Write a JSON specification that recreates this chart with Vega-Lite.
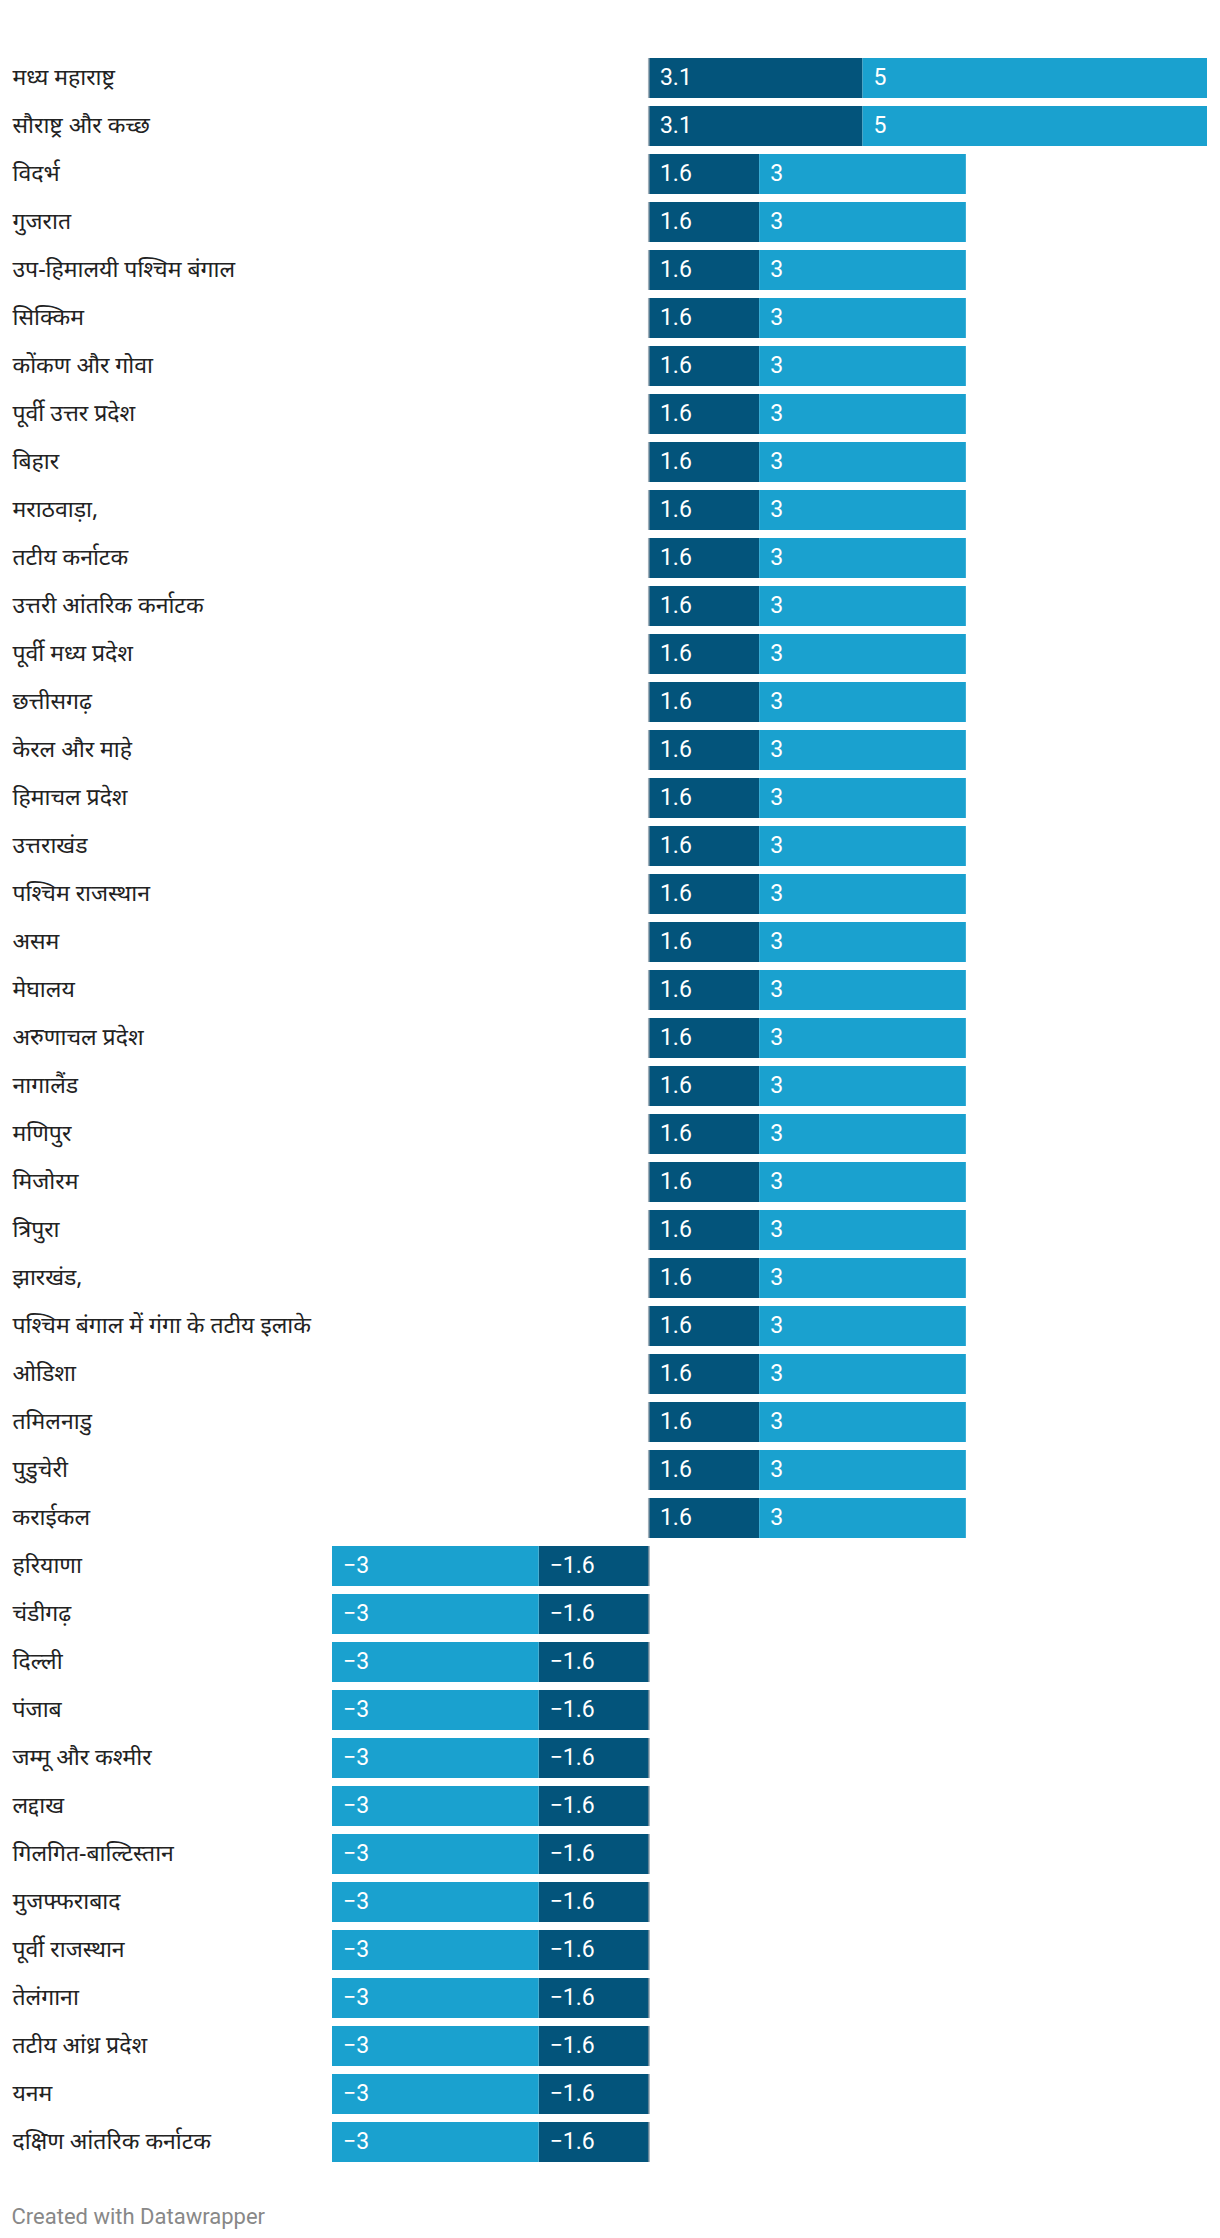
{
  "$schema": "https://vega.github.io/schema/vega-lite/v6.json",
  "autosize": {"type": "none"},
  "width": 875,
  "height": 2112,
  "padding": {"left": 332, "top": 54, "right": 13, "bottom": 72},
  "background": "white",
  "config": {"view": {"stroke": null}, "font": "Roboto"},
  "data": {"values": [
    {"r": "मध्य महाराष्ट्र", "a": 3.1, "b": 5},
    {"r": "सौराष्ट्र और कच्छ", "a": 3.1, "b": 5},
    {"r": "विदर्भ", "a": 1.6, "b": 3},
    {"r": "गुजरात", "a": 1.6, "b": 3},
    {"r": "उप-हिमालयी पश्चिम बंगाल", "a": 1.6, "b": 3},
    {"r": "सिक्किम", "a": 1.6, "b": 3},
    {"r": "कोंकण और गोवा", "a": 1.6, "b": 3},
    {"r": "पूर्वी उत्तर प्रदेश", "a": 1.6, "b": 3},
    {"r": "बिहार", "a": 1.6, "b": 3},
    {"r": "मराठवाड़ा,", "a": 1.6, "b": 3},
    {"r": "तटीय कर्नाटक", "a": 1.6, "b": 3},
    {"r": "उत्तरी आंतरिक कर्नाटक", "a": 1.6, "b": 3},
    {"r": "पूर्वी मध्य प्रदेश", "a": 1.6, "b": 3},
    {"r": "छत्तीसगढ़", "a": 1.6, "b": 3},
    {"r": "केरल और माहे", "a": 1.6, "b": 3},
    {"r": "हिमाचल प्रदेश", "a": 1.6, "b": 3},
    {"r": "उत्तराखंड", "a": 1.6, "b": 3},
    {"r": "पश्चिम राजस्थान", "a": 1.6, "b": 3},
    {"r": "असम", "a": 1.6, "b": 3},
    {"r": "मेघालय", "a": 1.6, "b": 3},
    {"r": "अरुणाचल प्रदेश", "a": 1.6, "b": 3},
    {"r": "नागालैंड", "a": 1.6, "b": 3},
    {"r": "मणिपुर", "a": 1.6, "b": 3},
    {"r": "मिजोरम", "a": 1.6, "b": 3},
    {"r": "त्रिपुरा", "a": 1.6, "b": 3},
    {"r": "झारखंड,", "a": 1.6, "b": 3},
    {"r": "पश्चिम बंगाल में गंगा के तटीय इलाके", "a": 1.6, "b": 3},
    {"r": "ओडिशा", "a": 1.6, "b": 3},
    {"r": "तमिलनाडु", "a": 1.6, "b": 3},
    {"r": "पुडुचेरी", "a": 1.6, "b": 3},
    {"r": "कराईकल", "a": 1.6, "b": 3},
    {"r": "हरियाणा", "a": -1.6, "b": -3},
    {"r": "चंडीगढ़", "a": -1.6, "b": -3},
    {"r": "दिल्ली", "a": -1.6, "b": -3},
    {"r": "पंजाब", "a": -1.6, "b": -3},
    {"r": "जम्मू और कश्मीर", "a": -1.6, "b": -3},
    {"r": "लद्दाख", "a": -1.6, "b": -3},
    {"r": "गिलगित-बाल्टिस्तान", "a": -1.6, "b": -3},
    {"r": "मुजफ्फराबाद", "a": -1.6, "b": -3},
    {"r": "पूर्वी राजस्थान", "a": -1.6, "b": -3},
    {"r": "तेलंगाना", "a": -1.6, "b": -3},
    {"r": "तटीय आंध्र प्रदेश", "a": -1.6, "b": -3},
    {"r": "यनम", "a": -1.6, "b": -3},
    {"r": "दक्षिण आंतरिक कर्नाटक", "a": -1.6, "b": -3}
  ]},
  "transform": [
    {"fold": ["a", "b"], "as": ["series", "value"]},
    {"stack": "value", "groupby": ["r"], "sort": [{"field": "series", "order": "ascending"}], "as": ["v0", "v1"]}
  ],
  "encoding": {
    "y": {
      "field": "r", "type": "nominal", "sort": null,
      "scale": {"paddingInner": 0.1667, "paddingOuter": 0.0833},
      "axis": {
        "title": null, "domain": false, "ticks": false, "grid": false,
        "labelAlign": "left", "labelPadding": 320, "labelBaseline": "middle",
        "labelFont": "Noto Sans", "labelFontSize": 23, "labelColor": "#222222", "labelLimit": 0
      }
    }
  },
  "layer": [
    {
      "mark": {"type": "bar"},
      "encoding": {
        "x": {
          "field": "v0", "type": "quantitative",
          "scale": {"domain": [-4.6, 8.1], "nice": false, "zero": false},
          "axis": {
            "orient": "bottom", "labels": false, "ticks": false, "domain": false, "grid": false,
            "title": "Created with Datawrapper", "titleX": -321, "titleY": 57,
            "titleAlign": "left", "titleAnchor": null, "titleBaseline": "alphabetic",
            "titleFont": "Roboto", "titleFontSize": 22, "titleFontWeight": "normal", "titleColor": "#888888"
          }
        },
        "x2": {"field": "v1"},
        "color": {
          "field": "series", "type": "nominal",
          "scale": {"domain": ["a", "b"], "range": ["#03547b", "#1aa1cf"]},
          "legend": null
        }
      }
    },
    {
      "mark": {"type": "tick", "orient": "vertical", "color": "#7f93a1", "thickness": 2, "size": 40},
      "transform": [{"filter": "datum.series == 'a'"}],
      "encoding": {"x": {"datum": 0, "type": "quantitative"}}
    },
    {
      "mark": {"type": "text", "align": "left", "baseline": "middle", "dx": 11, "color": "white", "font": "Roboto", "fontSize": 23},
      "transform": [{"filter": "datum.value >= 0"}],
      "encoding": {
        "x": {"field": "v0", "type": "quantitative"},
        "text": {"field": "value", "type": "quantitative", "format": ".2~g"}
      }
    },
    {
      "mark": {"type": "text", "align": "left", "baseline": "middle", "dx": 11, "color": "white", "font": "Roboto", "fontSize": 23},
      "transform": [{"filter": "datum.value < 0"}],
      "encoding": {
        "x": {"field": "v1", "type": "quantitative"},
        "text": {"field": "value", "type": "quantitative", "format": ".2~g"}
      }
    }
  ]
}
